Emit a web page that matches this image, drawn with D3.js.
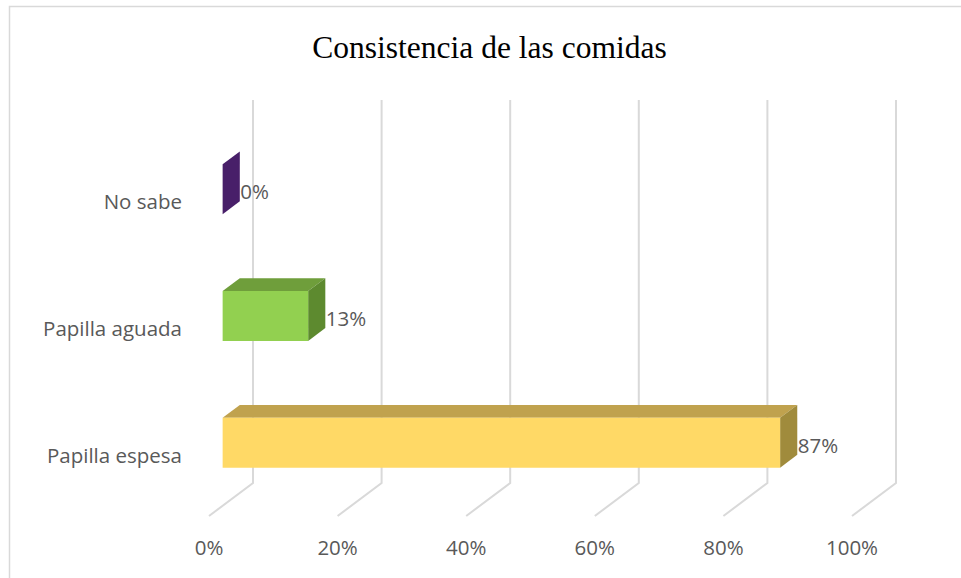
<!DOCTYPE html>
<html><head><meta charset="utf-8">
<script src="https://cdn.jsdelivr.net/npm/d3@7"></script>
<style>body{margin:0;background:#fff;} svg{display:block;}</style>
</head><body>
<svg id="chart" width="961" height="578"></svg>
<script>
const title = "Consistencia de las comidas";
const categories = ["No sabe", "Papilla aguada", "Papilla espesa"];
const values = [0, 13.3, 86.7];
const valueLabels = ["0%", "13%", "87%"];
const ticks = [0, 20, 40, 60, 80, 100];
const tickLabels = ["0%", "20%", "40%", "60%", "80%", "100%"];
const fronts = ["#4a1e6a", "#92d050", "#ffd966"];
const tops = ["#5a2a80", "#6f9e3b", "#c0a24e"];
const sides = ["#481f69", "#5d8a2f", "#a08b3c"];

const svg = d3.select("#chart");
svg.append("rect").attr("x", 9.5).attr("y", 6.5).attr("width", 980).attr("height", 600)
  .attr("fill", "#fff").attr("stroke", "#d9d9d9").attr("stroke-width", 1.5);

svg.append("text").attr("x", 489.5).attr("y", 57.5).attr("text-anchor", "middle")
  .attr("font-family", "'Liberation Serif','Times New Roman',serif").attr("font-size", 31.5)
  .attr("fill", "#000").text(title);

const x = d3.scaleLinear().domain([0, 100]).range([209, 852]);
const y = d3.scaleBand().domain(categories).range([136.5, 516]).paddingInner(0.606).paddingOuter(0.3);
const DX = 44, DY = -33;
const P = (v, yy, d) => [x(v) + DX * d, yy + DY * d];
const dF = 0.31, dB = 0.70;
const yBottom = 516, yTop = 133;

const line = d3.line();
svg.append("g").selectAll("path").data(ticks).join("path")
  .attr("d", t => line([P(t, yTop, 1), P(t, yBottom, 1), P(t, yBottom, 0)]))
  .attr("fill", "none").attr("stroke", "#d9d9d9").attr("stroke-width", 2);

const labFont = "'Open Sans','Noto Sans',sans-serif";
svg.append("g").selectAll("text").data(ticks).join("text")
  .attr("x", t => P(t, yBottom, 0)[0]).attr("y", 554.5)
  .attr("text-anchor", "middle").attr("font-family", labFont).attr("font-size", 20.5)
  .attr("fill", "#595959").text((t, i) => tickLabels[i]);

svg.append("g").selectAll("text").data(categories).join("text")
  .attr("x", 182).attr("y", c => y(c) + y.bandwidth() / 2 + 9.5)
  .attr("text-anchor", "end").attr("font-family", labFont).attr("font-size", 20.5)
  .attr("fill", "#595959").text(c => c);

const bars = svg.append("g");
categories.forEach((c, i) => {
  const v = values[i];
  const y0 = y(c), y1 = y(c) + y.bandwidth();
  const g = bars.append("g");
  g.append("path").attr("d", line([P(0, y0, dF), P(v, y0, dF), P(v, y0, dB), P(0, y0, dB)]) + "Z")
    .attr("fill", tops[i]);
  g.append("path").attr("d", line([P(v, y0, dF), P(v, y0, dB), P(v, y1, dB), P(v, y1, dF)]) + "Z")
    .attr("fill", sides[i]);
  if (v > 0) {
    g.append("path").attr("d", line([P(0, y0, dF), P(v, y0, dF), P(v, y1, dF), P(0, y1, dF)]) + "Z")
      .attr("fill", fronts[i]);
  }
  const lp = P(v, (y0 + y1) / 2, dF);
  g.append("text").attr("x", P(v, y0, dB)[0] + 0.5).attr("y", lp[1] + 10)
    .attr("font-family", labFont).attr("font-size", 20.5).attr("fill", "#595959")
    .text(valueLabels[i]);
});
</script>
</body></html>
